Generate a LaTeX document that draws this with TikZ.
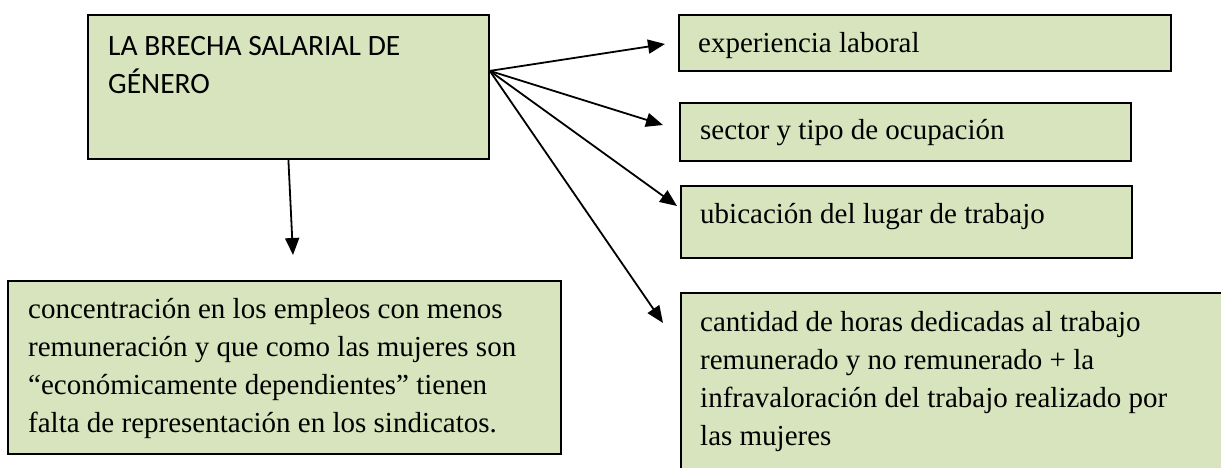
\documentclass[tikz,border=0pt]{standalone}
\usepackage{fontspec}
\setmainfont{Liberation Serif}
\newfontfamily\calibri{Carlito}
\usetikzlibrary{arrows.meta}
\definecolor{boxgreen}{HTML}{D7E4BD}
\begin{document}
\begin{tikzpicture}[x=1pt,y=-1pt,
  box/.style={draw=black,line width=1.8pt,fill=boxgreen,inner sep=0pt,anchor=north west},
  txt/.style={anchor=base west,inner sep=0pt,align=left,font=\fontsize{29}{38}\selectfont},
  hdr/.style={anchor=base west,inner sep=0pt,align=left,font=\calibri\fontsize{29.5}{38}\selectfont},
  arr/.style={line width=1.8pt,-{Triangle[length=17pt,width=14pt]}}]
\clip (0,0) rectangle (1221,468);
\fill[white] (0,0) rectangle (1221,468);
% boxes
\node[box,minimum width=401pt,minimum height=144pt] (main) at (87,14) {};
\node[box,minimum width=492pt,minimum height=56pt] (exp) at (678,14) {};
\node[box,minimum width=451pt,minimum height=58pt] (sec) at (679,102) {};
\node[box,minimum width=451pt,minimum height=72pt] (ubi) at (680,185) {};
\node[box,minimum width=560pt,minimum height=200pt] (can) at (680,292) {};
\node[box,minimum width=553pt,minimum height=173pt] (con) at (7,280) {};
% texts (anchored at the baseline of the last line)
\node[hdr] (maint) at (108,94) {LA BRECHA SALARIAL DE\\GÉNERO};
\node[txt] (expt) at (698,53) {experiencia laboral};
\node[txt] (sect) at (700,140) {sector y tipo de ocupación};
\node[txt] (ubit) at (700,223) {ubicación del lugar de trabajo};
\node[txt] (cant) at (700,445) {cantidad de horas dedicadas al trabajo\\remunerado y no remunerado + la\\infravaloración del trabajo realizado por\\las mujeres};
\node[txt] (cont) at (28,432) {concentración en los empleos con menos\\remuneración y que como las mujeres son\\“económicamente dependientes” tienen\\falta de representación en los sindicatos.};
% connectors
\coordinate (hub) at ([yshift=16pt]main.east);
\coordinate (tipexp) at (665,44);
\coordinate (tipsec) at (663,125);
\coordinate (tipubi) at (677,206);
\coordinate (tipcan) at (663,323);
\coordinate (tipcon) at (293,255);
\draw[arr] (hub) -- (tipexp);
\draw[arr] (hub) -- (tipsec);
\draw[arr] (hub) -- (tipubi);
\draw[arr] (hub) -- (tipcan);
\draw[arr] (main.south) -- (tipcon);
\end{tikzpicture}
\end{document}
